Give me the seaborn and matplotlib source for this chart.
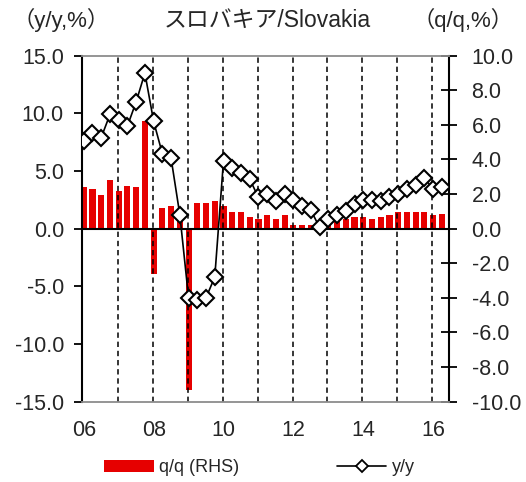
import numpy as np
import pandas as pd
import matplotlib
matplotlib.use("Agg")
import matplotlib.pyplot as plt
import seaborn as sns
from matplotlib.patches import Patch
from matplotlib.lines import Line2D

# ---- data (quarterly, 2006Q1 .. 2016Q2) ----
quarters = [f"{y}Q{q}" for y in range(2006, 2017) for q in range(1, 5)][:42]
yoy = [7.6, 8.3, 7.9, 9.9, 9.4, 8.9, 11.0, 13.5, 9.3, 6.5, 6.1, 1.2,
       -6.0, -6.2, -6.0, -4.2, 5.9, 5.3, 4.8, 4.3, 2.7, 3.0, 2.4, 3.0,
       2.5, 2.0, 1.6, 0.1, 0.8, 1.2, 1.5, 2.1, 2.5, 2.45, 2.4, 2.7,
       3.0, 3.4, 3.8, 4.4, 3.4, 3.6]
qoq = [2.4, 2.27, 1.94, 2.81, 2.17, 2.48, 2.4, 6.22, -2.64, 1.2, 1.3, 0.6,
       -9.34, 1.49, 1.49, 1.6, 1.31, 0.97, 0.97, 0.66, 0.56, 0.81, 0.54, 0.81,
       0.23, 0.23, 0.23, 0.2, 0.33, 0.42, 0.56, 0.66, 0.66, 0.56, 0.66, 0.81,
       0.97, 0.97, 0.97, 0.97, 0.81, 0.87]
xtick_labels = ["06", "08", "10", "12", "14", "16"]
left_ticks = [15.0, 10.0, 5.0, 0.0, -5.0, -10.0, -15.0]
right_ticks = [10.0, 8.0, 6.0, 4.0, 2.0, 0.0, -2.0, -4.0, -6.0, -8.0, -10.0]

df = pd.DataFrame({"quarter": quarters, "pos": np.arange(len(quarters)),
                   "yoy": yoy, "qoq": qoq})

sns.set_style("white")
plt.rcParams["font.family"] = ["Liberation Sans", "Noto Sans CJK JP", "DejaVu Sans"]

fig = plt.figure(figsize=(5.26, 4.82), dpi=100)
ax = fig.add_axes([82 / 526, 1 - 401.5 / 482, (449.3 - 82) / 526, (401.5 - 55.7) / 482])
ax2 = ax.twinx()

red = "#E60000"
# bars: q/q on right-hand scale (main axes)
sns.barplot(data=df, x="pos", y="qoq", native_scale=True, ax=ax, color=red,
            saturation=1, width=0.7, errorbar=None, linewidth=0, zorder=2)
ax.set_ylim(-10, 10)
ax.set_xlim(-0.2, 41.85)

# dashed year separators
for k in range(1, 11):
    ax.axvline(4 * k - 0.1, color="black", ls=(0, (3.5, 2.5)), lw=1.1, zorder=3)
ax.axhline(0, color="black", lw=1.5, zorder=4)

# line: y/y on left-hand scale (twin axes on top)
sns.lineplot(data=df, x="pos", y="yoy", ax=ax2, color="black", lw=1.2,
             marker="D", markersize=7.8, markerfacecolor="white",
             markeredgecolor="black", markeredgewidth=1.5, zorder=5)
ax2.set_ylim(-15, 15)
ax2.set_xlim(-0.2, 41.85)

# y axes placement
ax.yaxis.tick_right()
ax.yaxis.set_label_position("right")
ax2.yaxis.tick_left()
ax2.yaxis.set_label_position("left")

ax.set_yticks(right_ticks)
ax.set_yticklabels([f"{v:.1f}" for v in right_ticks])
ax2.set_yticks(left_ticks)
ax2.set_yticklabels([f"{v:.1f}" for v in left_ticks])

ax.tick_params(axis="y", which="both", right=True, left=False, direction="inout",
               length=12, width=1.3, color="black", labelsize=15.5, pad=10)
ax2.tick_params(axis="y", which="both", left=True, right=False, direction="out",
                length=6, width=1.3, color="black", labelsize=15.5, pad=7)

ax.set_xticks([0, 8, 16, 24, 32, 40])
ax.set_xticklabels(xtick_labels)
ax.tick_params(axis="x", length=0, labelsize=15.5, pad=13)
ax2.tick_params(axis="x", length=0, labelbottom=False)

for a in (ax, ax2):
    a.set_xlabel("")
    a.set_ylabel("")
    a.grid(False)
for s in ax.spines.values():
    s.set_visible(False)
for name, s in ax2.spines.items():
    s.set_visible(True)
    if name in ("left", "right"):
        s.set_color("black")
        s.set_linewidth(1.5)
    else:
        s.set_color("#8c8c8c")
        s.set_linewidth(1.3)
ax.set_facecolor("none")
ax2.set_facecolor("none")
ax.patch.set_visible(False)

# texts
fig.text(267 / 526, 1 - 20 / 482, "スロバキア/Slovakia", ha="center", va="center", fontsize=16.5)
fig.text(12 / 526, 1 - 20 / 482, "（y/y,%）", ha="left", va="center", fontsize=16)
fig.text(514 / 526, 1 - 20 / 482, "（q/q,%）", ha="right", va="center", fontsize=16)

handles = [Patch(facecolor=red, edgecolor="none"),
           Line2D([0], [0], color="black", lw=1.2, marker="D", markersize=6,
                  markerfacecolor="white", markeredgecolor="black", markeredgewidth=1.3)]
fig.legend(handles, ["q/q (RHS)", "y/y"], loc="center", ncol=2, frameon=False,
           bbox_to_anchor=(259.5 / 526, 1 - 468 / 482), fontsize=13,
           handlelength=2.75, handleheight=0.65, handletextpad=0.3, columnspacing=5.4)

fig.savefig("out.png", dpi=100)
